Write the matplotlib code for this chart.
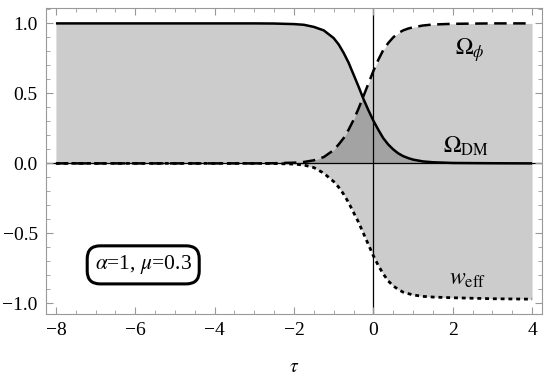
import numpy as np
import matplotlib.pyplot as plt
from matplotlib.ticker import MultipleLocator

tau = [-8, -3, -2.5, -2, -1.75, -1.5, -1.25, -1.0, -0.875, -0.75, -0.625, -0.5,
       -0.375, -0.25, -0.125, 0, 0.125, 0.25, 0.375, 0.5, 0.625, 0.75, 0.875,
       1.0, 1.25, 1.5, 2, 3, 4]
omega_dm = [1.0, 1.0, 0.999, 0.995, 0.99, 0.975, 0.95, 0.895, 0.85, 0.79, 0.72, 0.635,
            0.55, 0.46, 0.38, 0.305, 0.24, 0.18, 0.135, 0.1, 0.072, 0.052, 0.038,
            0.027, 0.014, 0.008, 0.003, 0.001, 0.0]
omega_phi = [0.0, 0.0, 0.001, 0.005, 0.01, 0.022, 0.045, 0.095, 0.135, 0.18, 0.24, 0.31,
             0.39, 0.48, 0.57, 0.66, 0.74, 0.81, 0.86, 0.9, 0.93, 0.95, 0.963,
             0.972, 0.985, 0.992, 0.997, 1.0, 1.0]
w_eff = [0.0, 0.0, -0.001, -0.005, -0.012, -0.03, -0.07, -0.13, -0.17, -0.22, -0.28, -0.35,
         -0.42, -0.5, -0.58, -0.66, -0.73, -0.79, -0.84, -0.875, -0.9, -0.92, -0.93,
         -0.94, -0.95, -0.955, -0.96, -0.967, -0.97]

plt.rcParams['font.family'] = ['Liberation Serif', 'DejaVu Serif']
plt.rcParams['mathtext.fontset'] = 'stix'

fig = plt.figure(figsize=(5.5, 3.82), dpi=100)
ax = fig.add_axes([46/550, 1 - 314/382, 496/550, 306/382])

t = np.array(tau)
for y in (omega_dm, omega_phi, w_eff):
    ax.fill_between(t, 0, y, color='k', alpha=0.2, lw=0)

ax.axhline(0, color='k', lw=0.9, zorder=1)
ax.axvline(0, color='k', lw=0.9, zorder=1)

ax.plot(t, omega_dm, color='k', lw=1.8, solid_capstyle='butt')
ax.plot(t, omega_phi, color='k', lw=1.8, dashes=(5, 2.6))
ax.plot(t, w_eff, color='k', lw=2.0, dashes=(1.4, 1.4))

ax.set_xlim(-8.25, 4.25)
ax.set_ylim(-1.076, 1.11)
ax.xaxis.set_major_locator(MultipleLocator(2))
ax.xaxis.set_minor_locator(MultipleLocator(0.5))
ax.yaxis.set_major_locator(MultipleLocator(0.5))
ax.yaxis.set_minor_locator(MultipleLocator(0.1))
ax.tick_params(which='both', direction='in', top=True, right=True, color='#999999',
               labelsize=14)
ax.tick_params(which='major', length=5, width=0.8, pad=6)
ax.tick_params(which='minor', length=3, width=0.6)
ax.set_yticks([-1.0, -0.5, 0.0, 0.5, 1.0])
ax.set_yticklabels(['\u22121.0', '\u22120.5', '0.0', '0.5', '1.0'])
for s in ax.spines.values():
    s.set_color('#999999')
    s.set_linewidth(0.8)

ax.text(2.05, 0.81, r'$\Omega_\phi$', fontsize=17, va='center')
ax.text(1.75, 0.12, r'$\Omega_{\rm DM}$', fontsize=17, va='center')
ax.text(1.9, -0.83, r'$w_{\rm eff}$', fontsize=17, va='center')
ax.text(-5.8, -0.725, r'$\alpha$=1, $\mu$=0.3', fontsize=15.5, ha='center', va='center',
        bbox=dict(boxstyle='round,pad=0.35,rounding_size=0.6', fc='white', ec='k', lw=2.2))

ax.set_xlabel(r'$\tau$', fontsize=14, labelpad=14)

fig.savefig('out.png', dpi=100)
